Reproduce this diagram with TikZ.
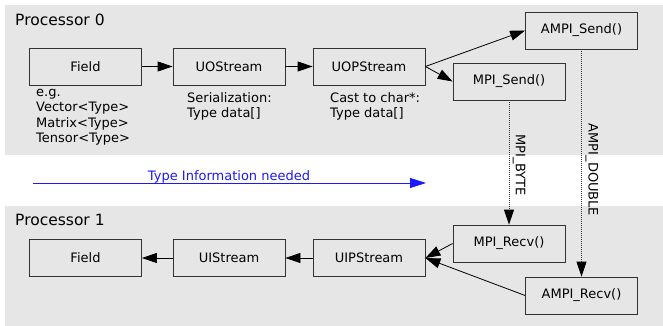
\documentclass[tikz,border=0pt]{standalone}
\usepackage{fontspec}
\setmainfont{DejaVu Sans}
\usetikzlibrary{arrows.meta}
\definecolor{panelgray}{HTML}{E6E6E6}
\definecolor{infoblue}{HTML}{1A1AFF}
\tikzset{
  blk/.style={draw=black!80, fill=panelgray, line width=0.8pt, minimum width=112pt, minimum height=37pt, inner sep=0pt, font=\fontsize{13}{15}\selectfont},
  note/.style={anchor=north west, align=left, inner sep=0pt, font=\fontsize{13}{15.3}\selectfont},
  panel/.style={fill=panelgray, draw=none},
  title/.style={anchor=west, inner sep=0pt, font=\fontsize{15.5}{18}\selectfont},
  flow/.style={line width=0.8pt, -{Triangle[length=15pt,width=10pt]}},
  wire/.style={black!80, line width=0.9pt, dash pattern=on 1pt off 1pt, -{Triangle[length=15pt,width=10pt,color=black]}},
  vlabel/.style={rotate=-90, inner sep=0pt, font=\fontsize{13}{15}\selectfont},
}
\begin{document}
\begin{tikzpicture}[x=1pt,y=-1pt]
\useasboundingbox (0,0) rectangle (663,326);
\fill[white] (0,0) rectangle (663,326);

% background panels for the two processes
\fill[panel] (5,5) rectangle (663,155);
\fill[panel] (5,206) rectangle (663,326);
\node[title] (p0) at (15,20) {Processor 0};
\node[title] (p1) at (15,220) {Processor 1};

% sending side
\node[blk] (field0) at (85.5,66.5) {Field};
\node[blk] (uos) at (229,66.5) {UOStream};
\node[blk] (uops) at (369,66.5) {UOPStream};
\node[blk] (ampisend) at (581.5,30.5) {AMPI\_Send()};
\node[blk] (mpisend) at (509,81.5) {MPI\_Send()};

\node[note] (n1) at (36,89) {e.g.\\Vector<Type>\\Matrix<Type>\\Tensor<Type>};
\node[note] (n2) at (187,92) {Serialization:\\Type data[]};
\node[note] (n3) at (330,92) {Cast to char*:\\Type data[]};

\draw[flow] (field0.east) -- (uos.west);
\draw[flow] (uos.east) -- (uops.west);
\draw[flow] (uops.east) -- (ampisend.west);
\draw[flow] (uops.east) -- (mpisend.west);

% receiving side
\node[blk] (field1) at (85.5,258) {Field};
\node[blk] (uis) at (229,258) {UIStream};
\node[blk] (uips) at (369,258) {UIPStream};
\node[blk] (mpirecv) at (509,243.5) {MPI\_Recv()};
\node[blk] (ampirecv) at (581.5,295.5) {AMPI\_Recv()};

\draw[flow] (uis.west) -- (field1.east);
\draw[flow] (uips.west) -- (uis.east);
\draw[flow] (mpirecv.west) -- (uips.east);
\draw[flow] (ampirecv.west) -- (uips.east);

% messages between the processes
\draw[wire] (mpisend.south) -- (mpirecv.north);
\draw[wire] (ampisend.south) -- (ampirecv.north);
\node[vlabel] (lbyte) at (519,165) {MPI\_BYTE};
\node[vlabel] (ldouble) at (592,170) {AMPI\_DOUBLE};

% type information arrow
\coordinate (ti0) at (33,183);
\coordinate (ti1) at (426,183);
\draw[infoblue, line width=0.8pt, -{Triangle[length=16pt,width=10pt]}] (ti0) -- (ti1);
\node[text=infoblue, inner sep=0pt, anchor=base, font=\fontsize{13}{15}\selectfont] (tilabel) at (229,180.5) {Type Information needed};
\end{tikzpicture}
\end{document}
